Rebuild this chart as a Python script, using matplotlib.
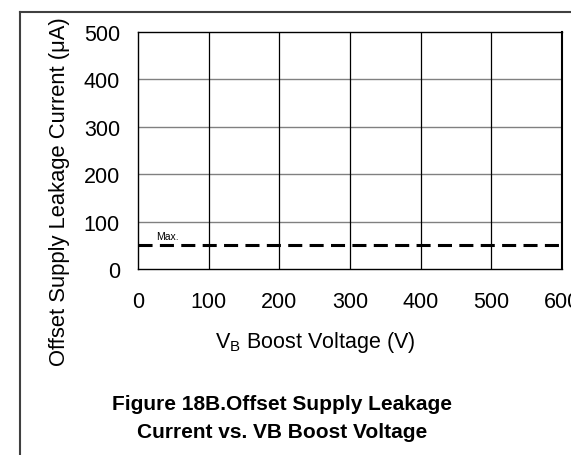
import matplotlib
matplotlib.use('Agg')
import matplotlib.pyplot as plt
from matplotlib.lines import Line2D

# Datos del grafico
voltaje = [0, 600]
corriente_max = [50, 50]
ticks_x = [0, 100, 200, 300, 400, 500, 600]
ticks_y = [0, 100, 200, 300, 400, 500]

plt.rcParams['font.family'] = ['Liberation Sans', 'DejaVu Sans']

W, H = 571, 456
fig = plt.figure(figsize=(W / 100, H / 100), dpi=100)

# Marco exterior (solo izquierda y arriba visibles)
fig.add_artist(Line2D([20 / W, 20 / W], [0, 1 - 13 / H], color='#404040', lw=1.5,
                      transform=fig.transFigure))
fig.add_artist(Line2D([20 / W, 1], [1 - 13 / H, 1 - 13 / H], color='#404040', lw=1.5,
                      transform=fig.transFigure))

# Ejes en coordenadas de pixel
izq, der, arr, aba = 138, 562, 33, 270
ax = fig.add_axes([izq / W, 1 - aba / H, (der - izq) / W, (aba - arr) / H])
ax.set_xlim(ticks_x[0], ticks_x[-1])
ax.set_ylim(ticks_y[0], ticks_y[-1])
ax.set_xticks(ticks_x)
ax.set_yticks(ticks_y)
ax.tick_params(length=0, labelsize=15.5)
ax.tick_params(axis='x', pad=16)
ax.tick_params(axis='y', pad=13)

for y in ticks_y[1:-1]:
    ax.axhline(y, color='#808080', lw=1.0, zorder=1)
for x in ticks_x[1:-1]:
    ax.axvline(x, color='black', lw=0.9, zorder=1)
for s in ax.spines.values():
    s.set_color('black')
    s.set_linewidth(1.0)
ax.spines['right'].set_linewidth(1.5)

ax.plot(voltaje, corriente_max, color='black', lw=2.2, dashes=(4.6, 2.4), zorder=3)
ax.text(25, 59, 'Max.', fontsize=7.5, va='bottom', ha='left')

# Etiquetas
fig.text(315 / W, 1 - 343 / H, r'V$_\mathregular{B}$ Boost Voltage (V)', fontsize=15.5,
         ha='center', va='center')
fig.text(60 / W, 1 - 192 / H, 'Offset Supply Leakage Current (μA)', fontsize=15.8,
         rotation=90, ha='center', va='center')
fig.text(282 / W, 1 - 405 / H, 'Figure 18B.Offset Supply Leakage', fontsize=15,
         fontweight='bold', ha='center', va='center')
fig.text(282 / W, 1 - 433 / H, 'Current vs. VB Boost Voltage', fontsize=15,
         fontweight='bold', ha='center', va='center')

fig.savefig('out.png', dpi=100)
